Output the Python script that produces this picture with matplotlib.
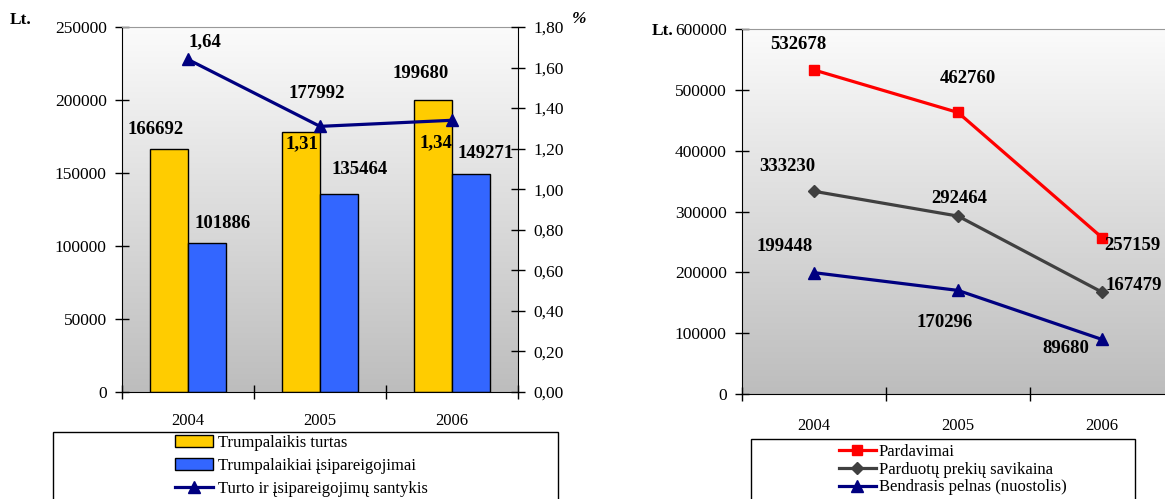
import matplotlib
matplotlib.use("Agg")
import matplotlib.pyplot as plt
import numpy as np
from matplotlib.colors import LinearSegmentedColormap
from matplotlib.patches import Rectangle
from matplotlib.ticker import FuncFormatter

plt.rcParams['font.family'] = ['Liberation Serif', 'DejaVu Serif']

years = ['2004', '2005', '2006']
# left chart
turtas = [166692, 177992, 199680]
isipareigojimai = [101886, 135464, 149271]
santykis = [1.64, 1.31, 1.34]
# right chart
pardavimai = [532678, 462760, 257159]
savikaina = [333230, 292464, 167479]
pelnas = [199448, 170296, 89680]

W, H = 1165, 499
fig = plt.figure(figsize=(W / 100, H / 100), dpi=100)

grad = LinearSegmentedColormap.from_list('g', ['#bdbdbd', '#fbfbfb'])


def px_axes(x0, y0, x1, y1):
    return fig.add_axes([x0 / W, 1 - y1 / H, (x1 - x0) / W, (y1 - y0) / H])


def background(ax):
    ax.imshow(np.linspace(0, 1, 256)[:, None], extent=(0, 1, 0, 1), origin='lower',
              transform=ax.transAxes, aspect='auto', cmap=grad, zorder=0)


def style_x(ax, pad):
    x = np.arange(len(years))
    ax.set_xticks(np.arange(-0.5, len(years)), minor=False)
    ax.set_xticklabels([])
    ax.set_xticks(x, minor=True)
    ax.set_xticklabels(years, minor=True, fontsize=12)
    ax.tick_params(axis='x', which='major', direction='inout', length=10, width=1)
    ax.tick_params(axis='x', which='minor', length=0, pad=pad)


pt = 1 / 1.389  # px -> points

# ---------------- left chart ----------------
ax = px_axes(122, 27, 518, 392)
background(ax)
x = np.arange(len(years))
bw = 0.288
ax.bar(x - bw / 2, turtas, bw, color='#ffcc00', edgecolor='black', lw=1, zorder=2,
       label='Trumpalaikis turtas')
ax.bar(x + bw / 2, isipareigojimai, bw, color='#3366ff', edgecolor='black', lw=1, zorder=2,
       label='Trumpalaikiai įsipareigojimai')
ax.set_xlim(-0.5, 2.5)
ax.set_ylim(0, 250000)
ax.set_yticks(np.arange(0, 250001, 50000))
ax.tick_params(axis='y', direction='inout', length=10, width=1, labelsize=12.5, pad=6)
style_x(ax, 15)
ax.spines['top'].set_color('#999999')
ax.spines['right'].set_visible(False)

off_t = [(-13, 19), (16, 39), (-12, 27)]
off_i = [(16, 20), (21, 25), (15, 21)]
for i in range(len(years)):
    ax.annotate(str(turtas[i]), (x[i] - bw / 2, turtas[i]),
                xytext=(off_t[i][0] * pt, off_t[i][1] * pt), textcoords='offset points',
                ha='center', va='center', fontsize=13.5, fontweight='bold', zorder=5)
    ax.annotate(str(isipareigojimai[i]), (x[i] + bw / 2, isipareigojimai[i]),
                xytext=(off_i[i][0] * pt, off_i[i][1] * pt), textcoords='offset points',
                ha='center', va='center', fontsize=13.5, fontweight='bold', zorder=5)

ax2 = ax.twinx()
ax2.plot(x, santykis, color='#000080', lw=2.3, marker='^', ms=8, zorder=4,
         label='Turto ir įsipareigojimų santykis')
ax2.set_ylim(0, 1.8)
ax2.set_yticks(np.arange(0, 1.81, 0.2))
ax2.yaxis.set_major_formatter(FuncFormatter(lambda v, p: f'{v:.2f}'.replace('.', ',')))
ax2.tick_params(axis='y', direction='inout', length=10, width=1, labelsize=12.5, pad=6)
for s in ['top', 'left', 'bottom']:
    ax2.spines[s].set_visible(False)
off_s = [(17, 18), (-18, -17), (-16, -22)]
for i in range(len(years)):
    ax2.annotate(f'{santykis[i]:.2f}'.replace('.', ','), (x[i], santykis[i]),
                 xytext=(off_s[i][0] * pt, off_s[i][1] * pt), textcoords='offset points',
                 ha='center', va='center', fontsize=13.5, fontweight='bold')

fig.text(10 / W, 1 - 20 / H, 'Lt.', fontsize=12.5, fontweight='bold', va='center', ha='left')
fig.text(572 / W, 1 - 19 / H, '%', fontsize=12.5, fontweight='bold', style='italic',
         va='center', ha='left')

# legend left
fig.add_artist(Rectangle((53 / W, -0.05), (558 - 53) / W, 1 - 432 / H + 0.05,
                         transform=fig.transFigure, fill=False, edgecolor='black', lw=1))
h1, l1 = ax.get_legend_handles_labels()
h2, l2 = ax2.get_legend_handles_labels()
fig.legend(h1 + h2, l1 + l2, loc='upper left', bbox_to_anchor=(175 / W, 1 - 435 / H),
           frameon=False, fontsize=12, borderpad=0, borderaxespad=0,
           handlelength=2.3, handletextpad=0.3, labelspacing=0.42)

# ---------------- right chart ----------------
bx = px_axes(742, 29, 1174, 394)
background(bx)
bx.plot(x, pardavimai, color='#ff0000', lw=2.3, marker='s', ms=7, label='Pardavimai', zorder=3)
bx.plot(x, savikaina, color='#404040', lw=2.3, marker='D', ms=6,
        label='Parduotų prekių savikaina', zorder=3)
bx.plot(x, pelnas, color='#000080', lw=2.3, marker='^', ms=8,
        label='Bendrasis pelnas (nuostolis)', zorder=3)
bx.set_xlim(-0.5, 2.5)
bx.set_ylim(0, 600000)
bx.set_yticks(np.arange(0, 600001, 100000))
bx.tick_params(axis='y', direction='inout', length=10, width=1, labelsize=12.5, pad=6)
style_x(bx, 17)
bx.spines['top'].set_color('#999999')
bx.spines['right'].set_visible(False)

off_p = [(-16, 25), (10, 34), (30, -8)]
off_c = [(-27, 25), (1, 18), (32, 7)]
off_b = [(-29, 26), (-13, -32), (-36, -9)]
for series, offs in [(pardavimai, off_p), (savikaina, off_c), (pelnas, off_b)]:
    for i in range(len(years)):
        bx.annotate(str(series[i]), (x[i], series[i]),
                    xytext=(offs[i][0] * pt, offs[i][1] * pt), textcoords='offset points',
                    ha='center', va='center', fontsize=13.5, fontweight='bold')

fig.text(652 / W, 1 - 31 / H, 'Lt.', fontsize=12.5, fontweight='bold', va='center', ha='left')

fig.add_artist(Rectangle((751 / W, -0.05), (1135 - 751) / W, 1 - 439 / H + 0.05,
                         transform=fig.transFigure, fill=False, edgecolor='black', lw=1))
hb, lb = bx.get_legend_handles_labels()
fig.legend(hb, lb, loc='upper left', bbox_to_anchor=(839 / W, 1 - 444 / H),
           frameon=False, fontsize=12, borderpad=0, borderaxespad=0,
           handlelength=2.2, handletextpad=0.2, labelspacing=0.1)

fig.savefig('out.png', dpi=100)
